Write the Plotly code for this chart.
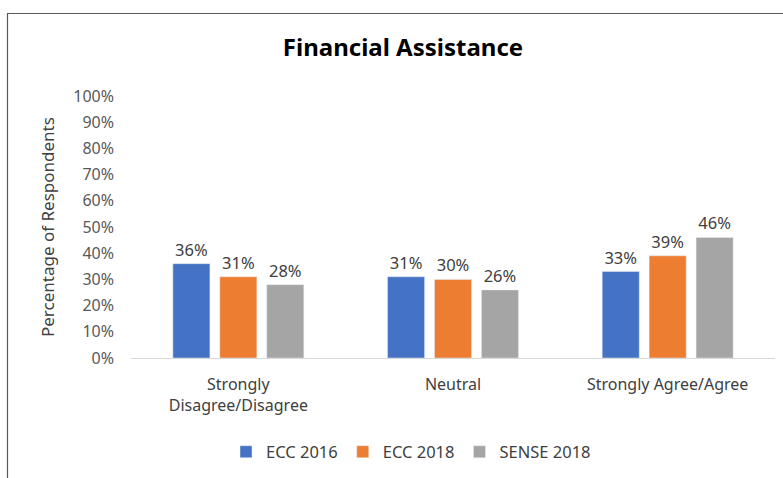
import plotly.graph_objects as go

categories = ["Strongly<br>Disagree/Disagree", "Neutral", "Strongly Agree/Agree"]
series_names = ["ECC 2016", "ECC 2018", "SENSE 2018"]
ecc_2016 = [36, 31, 33]
ecc_2018 = [31, 30, 39]
sense_2018 = [28, 26, 46]
colors = ["#4472C4", "#ED7D31", "#A5A5A5"]
y_ticks = list(range(0, 101, 10))
y_tick_labels = [f"{v}%" for v in y_ticks]

font_family = "Noto Sans"
fig = go.Figure()
for name, vals, col in zip(series_names, [ecc_2016, ecc_2018, sense_2018], colors):
    fig.add_trace(go.Bar(
        x=categories, y=vals, name=name, marker_color=col,
        text=[f"{v}%" for v in vals], textposition="outside",
        textfont=dict(size=16.5, color="#404040", family=font_family),
        cliponaxis=False,
    ))

W, H = 783, 478
l, r, t, b = 131, 8, 96, 120
pw, ph = W - l - r, H - t - b

fig.update_layout(
    width=W, height=H,
    margin=dict(l=l, r=r, t=t, b=b),
    paper_bgcolor="white", plot_bgcolor="white",
    barmode="group", bargap=0.344, bargroupgap=0.21,
    font=dict(family=font_family, color="#595959", size=16),
    title=dict(text="<b>Financial Assistance</b>", x=403 / W, xref="container", xanchor="center",
               y=1 - 48 / H, yref="container", yanchor="middle",
               font=dict(size=24, color="#000000", family=font_family)),
    showlegend=True,
    legend=dict(orientation="h", x=(226 - l) / pw, xanchor="left",
                y=(H - b - 452) / ph, yanchor="middle",
                font=dict(size=16.5, color="#404040", family=font_family),
                itemwidth=30, traceorder="normal"),
    xaxis=dict(showline=True, linecolor="#D9D9D9", linewidth=1, ticks="",
               ticklabelstandoff=12,
               tickfont=dict(size=16, color="#404040"), showgrid=False),
    yaxis=dict(range=[0, 100], tickvals=y_ticks, ticktext=y_tick_labels,
               showgrid=False, zeroline=False, showline=False, ticks="",
               ticklabelstandoff=16,
               tickfont=dict(size=16, color="#595959")),
)

fig.add_annotation(text="Percentage of Respondents", textangle=-90,
                   xref="paper", yref="paper", x=(47 - l) / pw, y=0.5,
                   xanchor="center", yanchor="middle", showarrow=False,
                   font=dict(size=17, color="#404040", family=font_family))

fig.add_shape(type="rect", xref="paper", yref="paper",
              x0=(7.5 - l) / pw, x1=(790 - l) / pw,
              y0=(H - b - 490) / ph, y1=1 + (t - 13.5) / ph,
              line=dict(color="#595959", width=1.2), fillcolor="rgba(0,0,0,0)", layer="below")

fig.write_html("out.html")
